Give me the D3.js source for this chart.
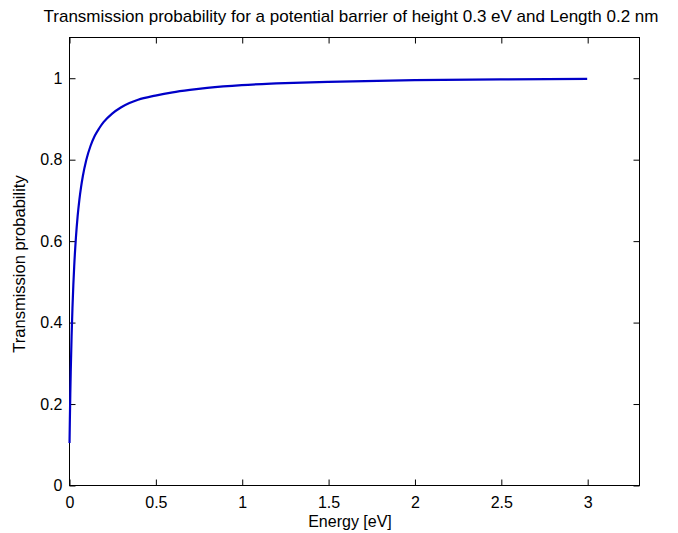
<!DOCTYPE html>
<html>
<head>
<meta charset="utf-8">
<script src="https://cdn.jsdelivr.net/npm/d3@7"></script>
<style>
  body { margin: 0; background: #fff; }
  text { font-family: "Liberation Sans", Arial, sans-serif; fill: #000; }
</style>
</head>
<body>
<div id="chart"></div>
<script>
// values
var energy = [0.003, 0.005, 0.0075, 0.01, 0.015, 0.02, 0.025, 0.03, 0.04, 0.05, 0.06, 0.07, 0.08,
  0.1, 0.125, 0.15, 0.175, 0.2, 0.25, 0.3, 0.35, 0.4, 0.5, 0.6, 0.7, 0.8, 1.0, 1.2, 1.5, 2.0, 2.5, 3.0];
var transmission = [0.103, 0.160, 0.223, 0.277, 0.365, 0.434, 0.490, 0.536, 0.607, 0.660, 0.700, 0.732, 0.758,
  0.798, 0.833, 0.858, 0.876, 0.891, 0.912, 0.927, 0.938, 0.946, 0.956, 0.964, 0.970, 0.975, 0.982, 0.986, 0.990, 0.994, 0.996, 0.997];
var xTicks = [0, 0.5, 1, 1.5, 2, 2.5, 3];
var yTicks = [0, 0.2, 0.4, 0.6, 0.8, 1];

var svgWidth = 678,
  svgHeight = 533,
  margin = {top: 37, right: 39, bottom: 48, left: 69},
  width = svgWidth - margin.left - margin.right,
  height = svgHeight - margin.top - margin.bottom,
  tickLen = 6;

var svg = d3.select("#chart").append("svg")
  .attr("width", svgWidth)
  .attr("height", svgHeight);

var g = svg.append("g")
  .attr("transform", "translate(" + margin.left + "," + margin.top + ")");

var x = d3.scaleLinear().domain([0, 3.3]).range([0, width]);
var y = d3.scaleLinear().domain([0, 1.1]).range([height, 0]);

// box
g.append("rect")
  .attr("x", 0.5).attr("y", 0.5)
  .attr("width", width).attr("height", height)
  .attr("fill", "none").attr("stroke", "#000").attr("stroke-width", 1);

// axes, ticks pointing inward like matlab
var fmt = d3.format("");
var xb = g.append("g").attr("transform", "translate(0.5," + (height + 0.5) + ")")
  .call(d3.axisBottom(x).tickValues(xTicks).tickSize(-tickLen).tickPadding(11).tickFormat(fmt));
var xt = g.append("g").attr("transform", "translate(0.5,0.5)")
  .call(d3.axisTop(x).tickValues(xTicks).tickSize(-tickLen).tickFormat(""));
var yl = g.append("g").attr("transform", "translate(0.5,0.5)")
  .call(d3.axisLeft(y).tickValues(yTicks).tickSize(-tickLen).tickPadding(7).tickFormat(fmt));
var yr = g.append("g").attr("transform", "translate(" + (width + 0.5) + ",0.5)")
  .call(d3.axisRight(y).tickValues(yTicks).tickSize(-tickLen).tickFormat(""));

[xb, xt, yl, yr].forEach(function(a) {
  a.select(".domain").remove();
  a.selectAll("line").attr("stroke", "#000");
  a.selectAll("text").style("font-size", "16px").attr("fill", "#000");
});

// the curve
var pts = energy.map(function(e, i) { return [e, transmission[i]]; });
var line = d3.line()
  .x(function(d) { return x(d[0]); })
  .y(function(d) { return y(d[1]); })
  .curve(d3.curveMonotoneX);

g.append("path")
  .datum(pts)
  .attr("d", line)
  .attr("fill", "none")
  .attr("stroke", "#0000c8")
  .attr("stroke-width", 2.2);

// titles
svg.append("text")
  .attr("x", 351).attr("y", 22)
  .attr("text-anchor", "middle")
  .style("font-size", "17px")
  .attr("textLength", 615)
  .attr("lengthAdjust", "spacingAndGlyphs")
  .text("Transmission probability for a potential barrier of height 0.3 eV and Length 0.2 nm");

svg.append("text")
  .attr("x", 350).attr("y", 527)
  .attr("text-anchor", "middle")
  .style("font-size", "16px")
  .text("Energy [eV]");

svg.append("text")
  .attr("transform", "translate(25,264)rotate(-90)")
  .attr("text-anchor", "middle")
  .style("font-size", "16.5px")
  .text("Transmission probability");
</script>
</body>
</html>
